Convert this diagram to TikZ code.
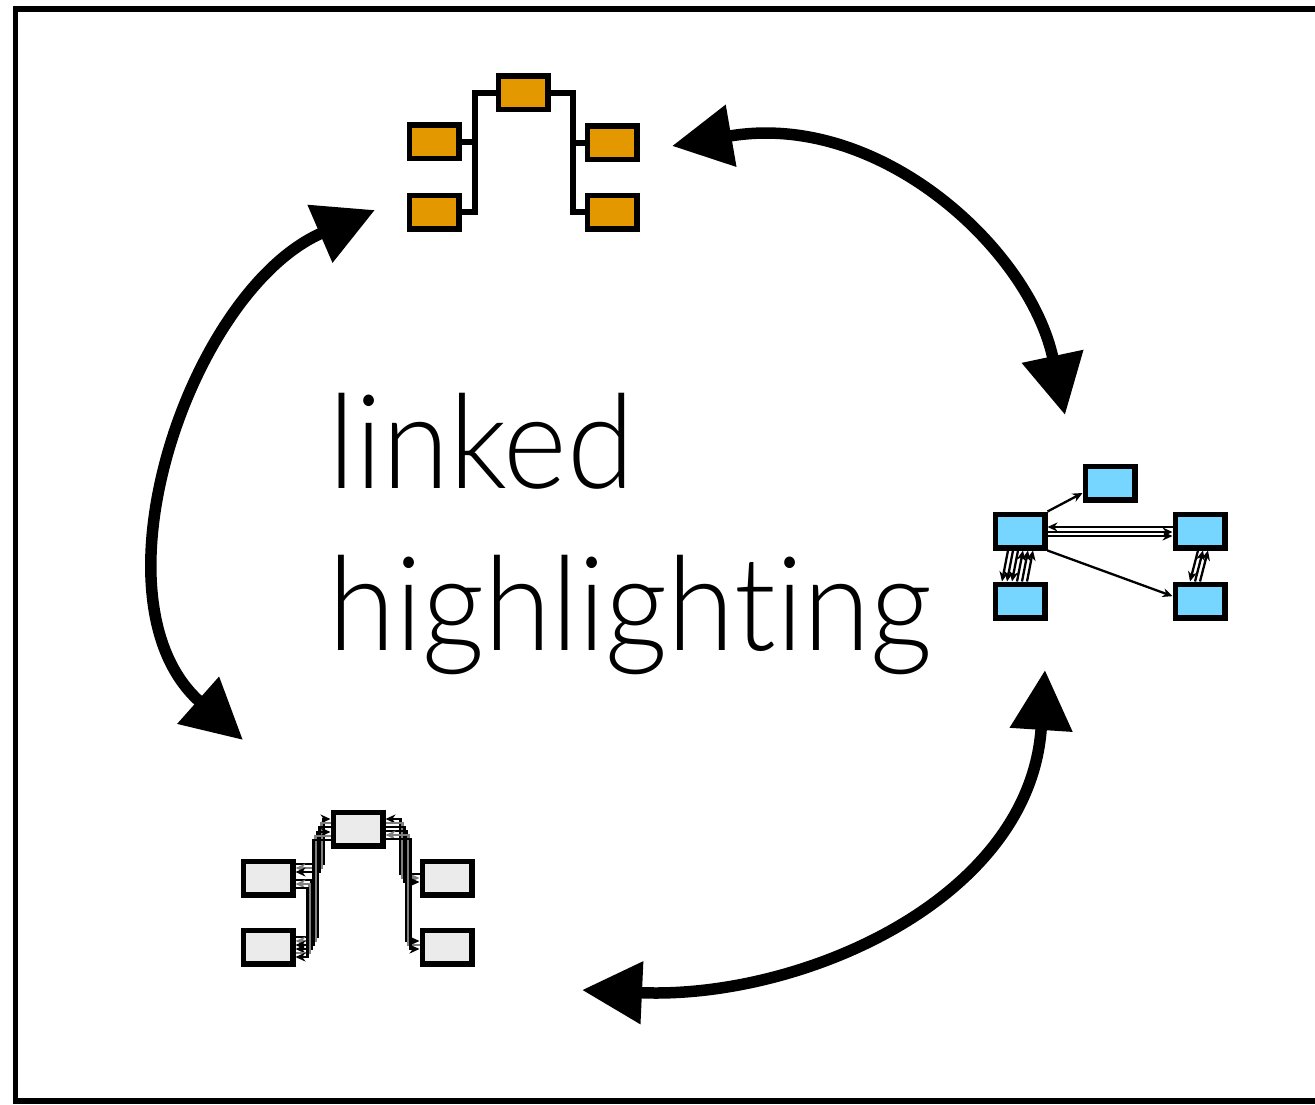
\documentclass[tikz,border=0pt]{standalone}
\usepackage{fontspec}
\newfontfamily\labelfont[Ligatures={NoCommon}]{Lato Light}
\usetikzlibrary{arrows.meta, positioning, calc}
\definecolor{treeorange}{HTML}{E39800}
\definecolor{graphblue}{HTML}{76D6FF}
\definecolor{boxgray}{HTML}{EBEBEB}

\begin{document}
\begin{tikzpicture}[x=1pt, y=-1pt, >={Stealth[length=10pt, width=9pt]},
    box/.style={draw, line width=5.5pt, minimum width=49.5pt,
                minimum height=33.5pt, inner sep=0pt},
    tline/.style={line width=6pt},
    gedge/.style={line width=2.3pt},
    bedge/.style={line width=2.3pt},
    bigarrow/.style={line width=11.5pt,
      {Triangle[length=60pt, width=60pt]}-{Triangle[length=60pt, width=60pt]}}]
  \useasboundingbox (0,0) rectangle (1315,1105);
  \draw[line width=5.5pt] (15.5,9) rectangle (1345,1101);

  % orange tree
  \foreach \n/\x/\y in {0/523/93, 1/434/142, 2/434/212, 3/612/143, 4/612/212}
    \node[box, fill=treeorange] (O\n) at (\x,\y) {};
  \draw[tline] (O0.west) -- ++(-21,0) |- (O2.east);
  \draw[tline] (O1.east) -- ++(12,0);
  \draw[tline] (O0.east) -- ++(22,0) |- (O4.west);
  \draw[tline] (O3.west) -- ++(-10,0);

  % blue graph
  \foreach \n/\x/\y in {0/1110/483, 1/1020/531, 2/1020/601, 3/1200/531, 4/1200/601}
    \node[box, fill=graphblue] (B\n) at (\x,\y) {};
  \draw[bedge, ->] (B1.north east) -- (B0.200);
  \draw[bedge, ->] (B1.south east) -- (B4.170);
  \foreach \d/\dir in {-4/<-, 1/->, 5/->}
    \draw[bedge, \dir] ($(B1.east)+(0,\d)$) -- ($(B3.west)+(0,\d)$);
  \foreach \d/\dir in {-12/->, -7/->, -2/->, 3/<-, 8/<-, 13/<-}
    \draw[bedge, \dir] ($(B1.south)+(\d,0)$) -- ($(B2.north)+(\d-6,0)$);
  \foreach \d/\dir in {-2/->, 3/<-, 8/<-}
    \draw[bedge, \dir] ($(B3.south)+(\d,0)$) -- ($(B4.north)+(\d-8,0)$);

  % gray tree
  \foreach \n/\x/\y in {0/358/829, 1/268/878, 2/268/947, 3/447/878, 4/447/947}
    \node[box, fill=boxgray] (G\n) at (\x,\y) {};
  \foreach \a/\b/\s/\c/\dir in {-10/-14/28/black/<-, -6/-10/26/gray/->,
                                -2/-6/24/black/->}
    \draw[gedge, \c, \dir] ($(G0.west)+(0,\a)$) -| ($(G1.east)+(\s,\b)$)
      -- ($(G1.east)+(0,\b)$);
  \foreach \a/\b/\s/\c/\dir in {3/-10/22/black/<-, 7/-6/20/gray/->,
                                11/-2/18/black/->}
    \draw[gedge, \c, \dir] ($(G0.west)+(0,\a)$) -| ($(G2.east)+(\s,\b)$)
      -- ($(G2.east)+(0,\b)$);
  \foreach \a/\b/\s/\c/\dir in {2/2/16/black/->, 6/6/14/gray/<-, 10/10/12/black/->}
    \draw[gedge, \c, \dir] ($(G1.east)+(0,\a)$) -| ($(G2.east)+(\s,\b)$)
      -- ($(G2.east)+(0,\b)$);
  \foreach \a/\b/\s/\c/\dir in {-10/-4/19/black/<-, -6/0/17/gray/->,
                                -2/4/15/black/->}
    \draw[gedge, \c, \dir] ($(G0.east)+(0,\a)$) -| ($(G3.west)+(-\s,\b)$)
      -- ($(G3.west)+(0,\b)$);
  \foreach \a/\b/\s/\c/\dir in {2/-6/13/black/->, 6/-2/11/gray/<-,
                                10/2/9/black/->}
    \draw[gedge, \c, \dir] ($(G0.east)+(0,\a)$) -| ($(G4.west)+(-\s,\b)$)
      -- ($(G4.west)+(0,\b)$);

  % label
  \node[font=\labelfont\fontsize{131}{150}\selectfont, anchor=base west,
        inner sep=0pt, xscale=0.93] (lnk) at (328,488) {linked};
  \node[font=\labelfont\fontsize{131}{150}\selectfont, anchor=base west,
        inner sep=0pt, xscale=0.93] (hlt) at (328,650) {highlight\kern0pt ing};

  % cycle arrows
  \coordinate (tipA) at (672,146);
  \coordinate (tipB) at (1065,415);
  \coordinate (tipC) at (375,210);
  \coordinate (tipD) at (243,740);
  \coordinate (tipE) at (1045,670);
  \coordinate (tipF) at (582,990);
  \draw[bigarrow] (tipA) .. controls (880,110) and (1030,250) .. (tipB);
  \draw[bigarrow] (tipC) .. controls (190,290) and (85,600) .. (tipD);
  \draw[bigarrow] (tipE) .. controls (1030,900) and (800,1000) .. (tipF);
\end{tikzpicture}
\end{document}
